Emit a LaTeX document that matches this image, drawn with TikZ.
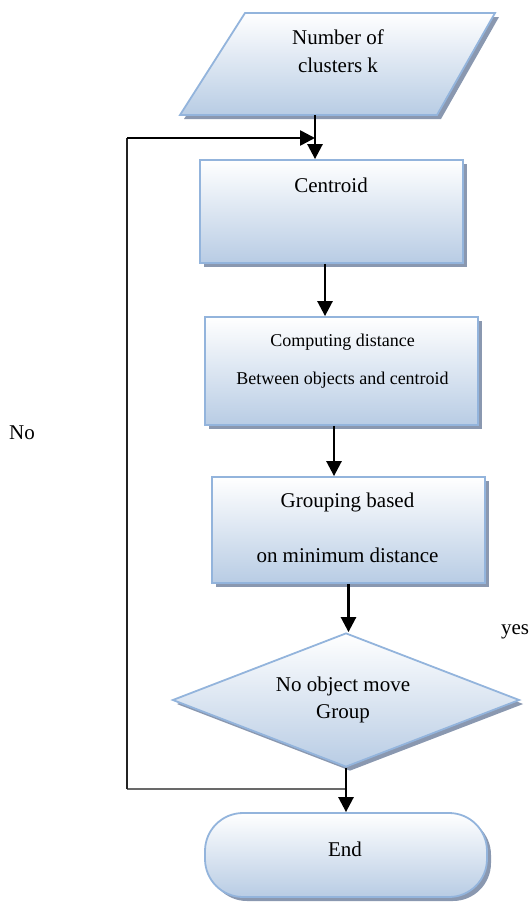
\documentclass[tikz,border=0pt]{standalone}
\usepackage{fontspec}
\setmainfont{Liberation Serif}
\usetikzlibrary{shapes.geometric,shadows,arrows.meta}
\definecolor{bordc}{RGB}{147,180,220}
\definecolor{fillc}{RGB}{184,204,228}
\definecolor{shadc}{RGB}{138,152,176}
\definecolor{fbc}{RGB}{105,105,105}
\definecolor{fbd}{RGB}{35,35,35}
\begin{document}
\begin{tikzpicture}[x=1pt,y=-1pt,
  flow/.style={draw=bordc, line width=1.8pt, top color=white, bottom color=fillc,
    drop shadow={shadow xshift=4pt, shadow yshift=-4pt, fill=shadc, opacity=1}},
  boxs/.style={flow, rectangle, inner sep=0pt},
  txt/.style={font=\fontsize{21}{28}\selectfont, align=center, inner sep=0pt},
  arr/.style={line width=2.6pt, -{Triangle[length=15pt,width=15pt]}},
  fbline/.style={line width=2.6pt}]
\useasboundingbox (0,0) rectangle (531,902);

% input parallelogram
\path[flow] (245,13) -- (495,13) -- (437,115) -- (180,115) -- cycle;
\node[txt] (numk) at (338,51) {Number of\\clusters k};
\coordinate (inp) at (315,115);

% boxes
\node[boxs, minimum width=263pt, minimum height=103pt] (cent) at (331.5,211.5) {};
\node[txt] (centt) at (331,185) {Centroid};

\node[boxs, minimum width=273pt, minimum height=108pt] (comp) at (341.5,371) {};
\node[txt, font=\fontsize{18}{38}\selectfont] (compt) at (342.5,361) {Computing distance\\Between objects and centroid};

\node[boxs, minimum width=273pt, minimum height=106pt] (grp) at (348.5,530) {};
\node[txt, font=\fontsize{21}{55}\selectfont] (grpt) at (347.5,527.5) {Grouping based\\on minimum distance};

\node[flow, diamond, inner sep=0pt, minimum width=347pt, minimum height=134pt] (dia) at (346,700) {};
\node[txt, font=\fontsize{21}{27}\selectfont] (diat) at (343,699.5) {No object move\\Group};

\node[boxs, rounded corners=38pt, minimum width=282pt, minimum height=84pt] (endn) at (346,855) {};
\node[txt] (endt) at (345,849) {End};

% labels
\node[txt] (no) at (22,433) {No};
\node[txt] (yes) at (515,632) {yes};

% connectors
\draw[arr] (inp) -- (inp |- cent.north);
\draw[arr] ([xshift=-6.5pt]cent.south) -- ([xshift=-6.5pt]cent.south |- comp.north);
\draw[arr] ([xshift=-7.5pt]comp.south) -- ([xshift=-7.5pt]comp.south |- grp.north);
\draw[arr] (grp.south) -- (grp.south |- dia.north);

% feedback loop
\coordinate (fbb) at (346,789);
\coordinate (fbl) at (127,789);
\coordinate (fbt) at (127,138);
\draw[fbline, draw=fbc] (fbb) -- (fbl);
\draw[fbline, draw=fbd] (fbl) -- (fbt);
\draw[arr] (fbt) -- (inp |- fbt);

\draw[arr] (dia.south) -- (endn.north);
\end{tikzpicture}
\end{document}
